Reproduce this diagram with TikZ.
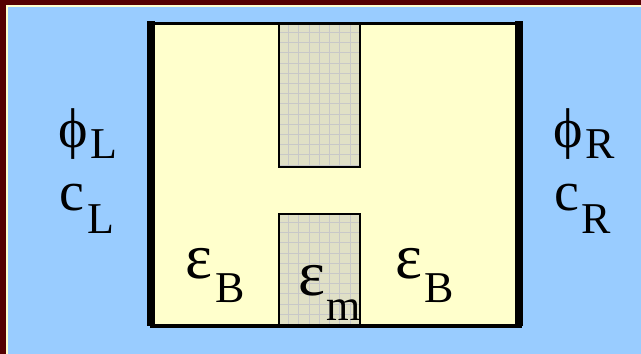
\documentclass[tikz,border=0pt]{standalone}
\usepackage{fontspec}
\setmainfont{Liberation Serif}
\definecolor{frame}{RGB}{85,0,0}
\definecolor{cream}{RGB}{255,255,204}
\definecolor{sky}{RGB}{153,204,255}
\definecolor{slab}{RGB}{224,224,198}
\definecolor{gridc}{RGB}{200,200,200}
\newcommand{\gk}[2]{{\fontsize{#1}{#1}\selectfont #2}}
\newcommand{\sublbl}[4]{#1\hspace{#4pt}\raisebox{-#3pt}{#2}}
\begin{document}
\begin{tikzpicture}[x=1pt,y=-1pt,
  lbl/.style={inner sep=0pt,anchor=base west,font=\fontsize{44}{48}\selectfont},
  slabbox/.style={draw=black,line width=2pt,inner sep=0pt,anchor=north west},
  bar/.style={fill=black,draw=none,inner sep=0pt,anchor=north west}]
\useasboundingbox (0,0) rectangle (641,354);
% background and frame
\fill[frame] (0,0) rectangle (641,354);
\fill[cream] (6,5) rectangle (641,354);
\fill[sky] (8,7) rectangle (641,354);
% main box
\node[fill=cream,draw=black,line width=2.5pt,minimum width=369pt,minimum height=303pt,inner sep=0pt,anchor=north west] (box) at (150,22) {};
\node[bar,minimum width=8pt,minimum height=305pt] (lbar) at (147,21) {};
\node[bar,minimum width=8pt,minimum height=305pt] (rbar) at (515,21) {};
% slabs
\begin{scope}
\clip (278,23) rectangle (359,166);
\fill[slab] (278,23) rectangle (359,166);
\foreach \x in {288.3,298.6,...,359} \draw[gridc,line width=0.8pt] (\x,23) -- (\x,166);
\foreach \y in {32.3,42.5,...,166} \draw[gridc,line width=0.8pt] (278,\y) -- (359,\y);
\end{scope}
\node[slabbox,minimum width=81pt,minimum height=143pt] (topslab) at (278,23) {};
\begin{scope}
\clip (278,213) rectangle (359,325);
\fill[slab] (278,213) rectangle (359,325);
\foreach \x in {288.3,298.6,...,359} \draw[gridc,line width=0.8pt] (\x,213) -- (\x,325);
\foreach \y in {222.3,232.5,...,325} \draw[gridc,line width=0.8pt] (278,\y) -- (359,\y);
\end{scope}
\node[slabbox,minimum width=81pt,minimum height=112pt] (botslab) at (278,213) {};
\draw[black,line width=2.5pt] (lbar.south east) ++(0,-1.5) -- ([yshift=1.5pt]rbar.south west);
% labels
\node[lbl] (phiL) at (58,147) {\sublbl{\gk{56}{ϕ}}{L}{11}{3}};
\node[lbl] (cL) at (59,210) {\sublbl{\gk{56}{c}}{L}{23}{3}};
\node[lbl] (phiR) at (553,147) {\sublbl{\gk{56}{ϕ}}{R}{11}{3}};
\node[lbl] (cR) at (554,210) {\sublbl{\gk{56}{c}}{R}{23}{2}};
\node[lbl] (epsBL) at (185,278) {\sublbl{\gk{64}{ε}}{B}{24}{3}};
\node[lbl] (epsm) at (298,295) {\sublbl{\gk{64}{ε}}{m}{25}{1}};
\node[lbl] (epsBR) at (395,278) {\sublbl{\gk{64}{ε}}{B}{24}{2}};
\end{tikzpicture}
\end{document}
